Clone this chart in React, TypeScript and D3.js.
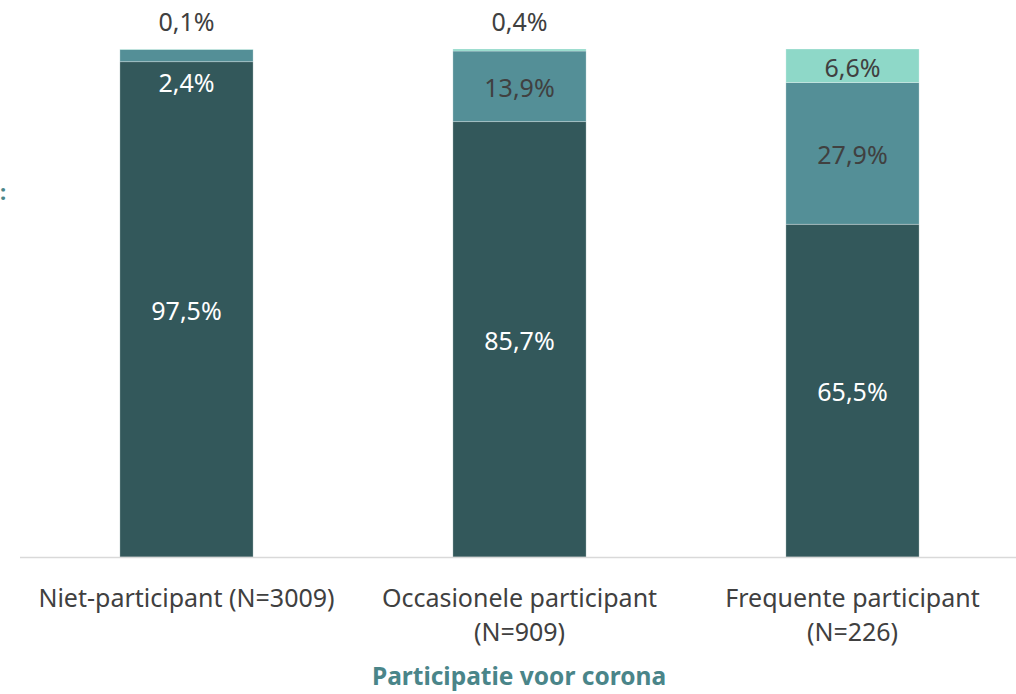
import React from "react";
import * as d3 from "d3";

const categories = ["Niet-participant (N=3009)", "Occasionele participant (N=909)", "Frequente participant (N=226)"];
const categoryLines = [["Niet-participant (N=3009)"], ["Occasionele participant", "(N=909)"], ["Frequente participant", "(N=226)"]];
const seriesNames = ["s1", "s2", "s3"];
const s1 = [97.5, 85.7, 65.5];
const s2 = [2.4, 13.9, 27.9];
const s3 = [0.1, 0.4, 6.6];
const seriesColors = ["#33585B", "#548F97", "#8ED8C8"];
const labelColors = ["#FFFFFF", "#404040", "#404040"];
const axisTitle = "Participatie voor corona";

const W = 1016;
const H = 694;
const FONT = "'Noto Sans', 'Open Sans', sans-serif";

export default function App() {
  const x = d3.scaleBand<string>().domain(categories).range([20, 1019]).paddingInner(0.6).paddingOuter(0.3);
  const y = d3.scaleLinear().domain([0, 100]).range([557, 49]);
  const rows = categories.map((c, i) => ({ cat: c, s1: s1[i], s2: s2[i], s3: s3[i] }));
  const stack = d3.stack<any>().keys(seriesNames);
  const layers = stack(rows);
  const fmt = (v: number) => v.toFixed(1).replace(".", ",") + "%";

  return (
    <div style={{ position: "absolute", left: 0, top: 0 }}>
      <svg width={W} height={H} style={{ display: "block", fontFamily: FONT }}>
        <rect width={W} height={H} fill="#fff" />
        {layers.map((layer, li) =>
          layer.map((d, i) => (
            <rect
              key={`${li}-${i}`}
              x={x(categories[i])}
              width={x.bandwidth()}
              y={y(d[1])}
              height={Math.max(0, y(d[0]) - y(d[1]))}
              fill={seriesColors[li]}
              stroke="#ffffff"
              strokeOpacity={0.35}
              strokeWidth={0.8}
            />
          ))
        )}
        <line x1={20} x2={W} y1={557.5} y2={557.5} stroke="#D9D9D9" strokeWidth={1.5} />
        {layers.map((layer, li) =>
          layer.map((d, i) => {
            const h = y(d[0]) - y(d[1]);
            const cx = (x(categories[i]) as number) + x.bandwidth() / 2;
            let cy = (y(d[0]) + y(d[1])) / 2 + 2;
            let fill = labelColors[li];
            if (h < 20) {
              if (li === layers.length - 1) {
                cy = y(100) - 27;
                fill = "#404040";
              } else {
                cy = y(d[0]) + 22;
                fill = "#FFFFFF";
              }
            }
            return (
              <text key={`t${li}-${i}`} x={cx} y={cy} dy="0.35em" textAnchor="middle" fontSize={25} fill={fill}>
                {fmt(d[1] - d[0])}
              </text>
            );
          })
        )}
        {categoryLines.map((lines, i) => (
          <text key={`c${i}`} x={(x(categories[i]) as number) + x.bandwidth() / 2} y={598} textAnchor="middle" fontSize={25} fill="#404040">
            {lines.map((l, j) => (
              <tspan key={j} x={(x(categories[i]) as number) + x.bandwidth() / 2} dy={j === 0 ? "0.35em" : 34}>
                {l}
              </tspan>
            ))}
          </text>
        ))}
        <text x={519} y={676} dy="0.35em" textAnchor="middle" fontSize={24.5} fontWeight="bold" fill="#4A8589">
          {axisTitle}
        </text>
        <text x={0} y={192} dy="0.35em" fontSize={22} fontWeight="bold" fill="#4A8589">:</text>
      </svg>
    </div>
  );
}
